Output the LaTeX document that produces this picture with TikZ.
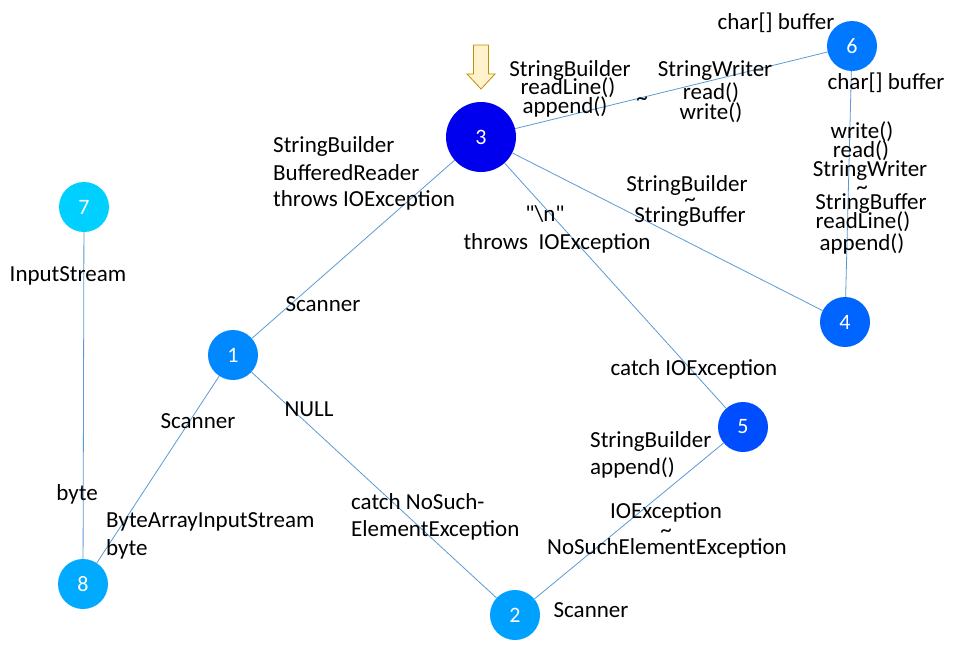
\documentclass[tikz,border=0pt]{standalone}
\usepackage{fontspec}
\setmainfont{Carlito}[Ligatures=TeXOff]
\definecolor{edgec}{RGB}{91,155,213}
\definecolor{c7}{RGB}{0,208,255}
\definecolor{c8}{RGB}{0,170,255}
\definecolor{c1}{RGB}{0,136,255}
\definecolor{c2}{RGB}{0,160,255}
\definecolor{c5}{RGB}{0,76,255}
\definecolor{c3}{RGB}{0,0,238}
\definecolor{c6}{RGB}{0,120,255}
\definecolor{c4}{RGB}{0,100,255}
\definecolor{arrfill}{RGB}{255,242,204}
\definecolor{arrdraw}{RGB}{191,144,0}
\begin{document}
\begin{tikzpicture}[x=1pt,y=-1pt,
  vert/.style={circle,minimum size=50pt,inner sep=0pt,text=white,font=\fontsize{22}{24}\selectfont},
  lbl/.style={inner sep=0pt,font=\fontsize{23}{25}\selectfont},
  lbll/.style={lbl,anchor=west},
  edge/.style={draw=edgec,line width=0.8pt}]
\useasboundingbox (0,0) rectangle (953,648);
\fill[white] (0,0) rectangle (953,648);
\node[vert,fill=c7] (n7) at (84,207) {7};
\node[vert,fill=c8] (n8) at (83,584) {8};
\node[vert,fill=c1] (n1) at (233,355) {1};
\node[vert,fill=c2] (n2) at (515,615) {2};
\node[vert,fill=c5] (n5) at (743,427) {5};
\node[vert,fill=c3,minimum size=70pt] (n3) at (481,137) {3};
\node[vert,fill=c6] (n6) at (852,46) {6};
\node[vert,fill=c4] (n4) at (845,322) {4};
\draw[edge] (n7) -- (n8);
\draw[edge] (n1) -- (n8);
\draw[edge] (n1) -- (n3);
\draw[edge] (n1) -- (n2);
\draw[edge] (n2) -- (n5);
\draw[edge] (n5) -- (n3);
\draw[edge] (n3) -- (n4);
\draw[edge] (n3) -- (n6);
\draw[edge] (n6) -- (n4);
% down arrow
\draw[draw=arrdraw,fill=arrfill,line width=0.8pt]
  (473.5,45) -- (488.5,45) -- (488.5,74) -- (495,74) -- (481,89) -- (467,74) -- (473.5,74) -- cycle;
% labels
\node[lbl] (t1) at (776,23) {char[] buffer};
\node[lbl] (t2a) at (570,70) {StringBuilder};
\node[lbl] (t2b) at (568,88) {readLine()};
\node[lbl] (t2c) at (565,107) {append()};
\node[lbl] (t3) at (642,101) {\textasciitilde};
\node[lbl] (t4a) at (715,71) {StringWriter};
\node[lbl] (t4b) at (711,93) {read()};
\node[lbl] (t4c) at (711,113) {write()};
\node[lbl] (t5) at (886,83) {char[] buffer};
\node[lbl] (t6) at (862,132) {write()};
\node[lbl] (t7) at (861,151) {read()};
\node[lbl] (t8) at (870,171) {StringWriter};
\node[lbl] (t9) at (862,190) {\textasciitilde};
\node[lbl] (t10) at (871,204) {StringBuffer};
\node[lbl] (t11) at (863,222) {readLine()};
\node[lbl] (t12) at (862,244) {append()};
\node[lbll] (t13a) at (273,146) {StringBuilder};
\node[lbll] (t13b) at (273,173) {BufferedReader};
\node[lbll] (t13c) at (273,200) {throws IOException};
\node[lbl] (t14) at (687,185) {StringBuilder};
\node[lbl] (t15) at (690,202) {\textasciitilde};
\node[lbl] (t16) at (690,217) {StringBuffer};
\node[lbl] (t17) at (545,214) {"\textbackslash n"};
\node[lbl] (t18) at (557,243) {throws\ \ IOException};
\node[lbl] (t19) at (68,276) {InputStream};
\node[lbl] (t20) at (323,304) {Scanner};
\node[lbl] (t21) at (198,421) {Scanner};
\node[lbl] (t22) at (309,409) {NULL};
\node[lbl] (t23) at (694,369) {catch IOException};
\node[lbll] (t24a) at (590,441) {StringBuilder};
\node[lbll] (t24b) at (590,468) {append()};
\node[lbl] (t25) at (666,512) {IOException};
\node[lbl] (t26) at (666,533) {\textasciitilde};
\node[lbl] (t27) at (667,548) {NoSuchElementException};
\node[lbll] (t28a) at (351,502) {catch NoSuch-};
\node[lbll] (t28b) at (351,530) {ElementException};
\node[lbl] (t29) at (77,494) {byte};
\node[lbll] (t30a) at (106,522) {ByteArrayInputStream};
\node[lbll] (t30b) at (106,549) {byte};
\node[lbl] (t31) at (591,610) {Scanner};
\end{tikzpicture}
\end{document}
